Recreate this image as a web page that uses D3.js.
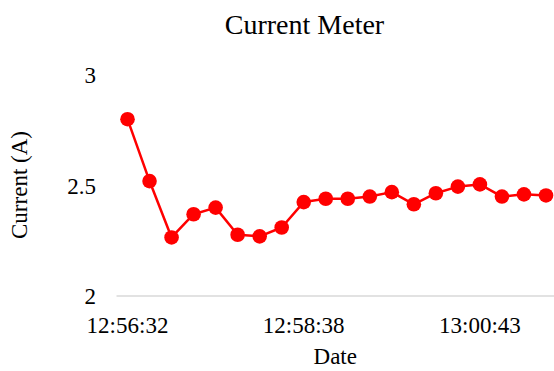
<!DOCTYPE html>
<html>
<head>
<meta charset="utf-8">
<script src="https://cdn.jsdelivr.net/npm/d3@7"></script>
<style>
  html, body { margin: 0; padding: 0; background: #fff; }
  svg, svg text { font-family: "Liberation Serif", "Times New Roman", serif !important; }
  svg { display: block; }
</style>
</head>
<body>
<svg id="chart" width="554" height="371"></svg>
<script>
// ---- data ----
const title = "Current Meter";
const xTitle = "Date";
const yTitle = "Current (A)";
const pointIndex = [0,1,2,3,4,5,6,7,8,9,10,11,12,13,14,15,16,17,18,19];
const currentValues = [2.80, 2.52, 2.265, 2.37, 2.40, 2.277, 2.27, 2.31, 2.425, 2.44,
                       2.44, 2.45, 2.47, 2.415, 2.465, 2.495, 2.505, 2.45, 2.46, 2.455];
const xTickIndex = [0, 8, 16];
const xTickLabels = ["12:56:32", "12:58:38", "13:00:43"];
const yTicks = [2, 2.5, 3];

// ---- layout ----
const svg = d3.select("#chart");
const plotLeft = 116.5, plotRight = 557, plotTop = 75, plotBottom = 296;

const x = d3.scaleBand().domain(pointIndex).range([plotLeft, plotRight]);
const cx = i => x(i) + x.bandwidth() / 2;
const y = d3.scaleLinear().domain([2, 3]).range([plotBottom, plotTop]);

// title
svg.append("text").attr("x", 304.5).attr("y", 34).attr("text-anchor", "middle")
  .attr("font-size", 28).attr("fill", "#000").text(title);

// y axis (labels only)
const yAxis = d3.axisLeft(y).tickValues(yTicks).tickSize(0).tickPadding(0)
  .tickFormat(d => d3.format("~g")(d));
const yg = svg.append("g").attr("transform", `translate(96,0)`).call(yAxis)
  .attr("font-family", null);
yg.select(".domain").remove();
yg.selectAll("text").attr("font-size", 23)
  .attr("fill", "#000").attr("dy", "0.33em");

// x axis baseline
svg.append("line").attr("x1", plotLeft).attr("x2", 554)
  .attr("y1", y(2)).attr("y2", y(2)).attr("stroke", "#d9d9d9").attr("stroke-width", 1.3);

// x tick labels
const xAxis = d3.axisBottom(x).tickValues(xTickIndex).tickSize(0).tickPadding(0)
  .tickFormat(d => xTickLabels[xTickIndex.indexOf(d)]);
const xg = svg.append("g").attr("transform", `translate(0,${plotBottom})`).call(xAxis)
  .attr("font-family", null);
xg.select(".domain").remove();
xg.selectAll("text").attr("font-size", 23)
  .attr("fill", "#000").attr("dy", null).attr("y", 36.7);

// axis titles
svg.append("text").attr("x", (plotLeft + 554) / 2).attr("y", 364).attr("text-anchor", "middle")
  .attr("font-size", 23).attr("fill", "#000").text(xTitle);
svg.append("text").attr("transform", "translate(27,185) rotate(-90)").attr("text-anchor", "middle")
  .attr("font-size", 23).attr("fill", "#000").text(yTitle);

// line
const line = d3.line().x((d, i) => cx(pointIndex[i])).y(d => y(d));
svg.append("path").datum(currentValues).attr("d", line)
  .attr("fill", "none").attr("stroke", "#ff0000").attr("stroke-width", 2.5)
  .attr("stroke-linejoin", "round");

// markers
svg.append("g").selectAll("circle").data(currentValues).join("circle")
  .attr("cx", (d, i) => cx(pointIndex[i])).attr("cy", d => y(d)).attr("r", 7.3)
  .attr("fill", "#ff0000");
</script>
</body>
</html>
